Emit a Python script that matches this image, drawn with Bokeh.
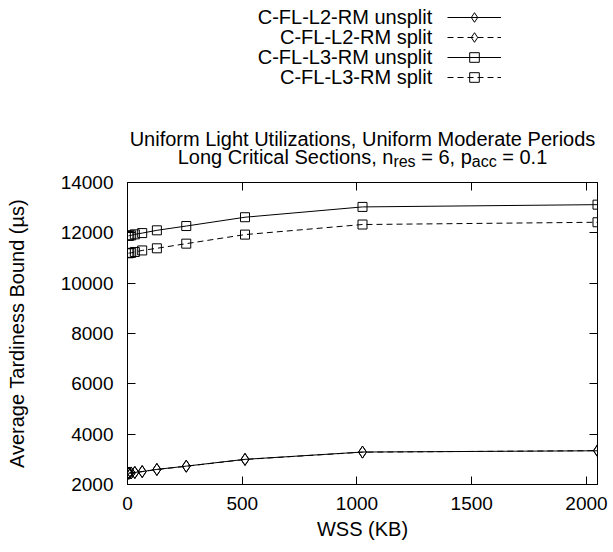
from bokeh.plotting import figure
from bokeh.layouts import column
from bokeh.models import (Range1d, LinearAxis, FixedTicker, Label, Legend, LegendItem,
                          CustomJSTickFormatter)
from bokeh.embed import file_html
from bokeh.resources import INLINE

# ---------------- data ----------------
wss_kb = [4, 8, 16, 32, 64, 128, 256, 512, 1024, 2048]
l2_unsplit = [2450, 2455, 2460, 2480, 2515, 2600, 2730, 3000, 3290, 3340]
l2_split = [2445, 2450, 2458, 2475, 2510, 2595, 2725, 2995, 3285, 3345]
l3_unsplit = [11880, 11890, 11900, 11940, 11990, 12100, 12270, 12620, 13030, 13120]
l3_split = [11190, 11195, 11205, 11240, 11300, 11385, 11570, 11930, 12330, 12420]

series_names = ["C-FL-L2-RM unsplit", "C-FL-L2-RM split",
                "C-FL-L3-RM unsplit", "C-FL-L3-RM split"]
x_ticks = [0, 500, 1000, 1500, 2000]
y_ticks = [2000, 4000, 6000, 8000, 10000, 12000, 14000]
title_line1 = "Uniform Light Utilizations, Uniform Moderate Periods"
title_line2_parts = [("Long Critical Sections, n", False), ("res", True),
                     (" = 6, p", False), ("acc", True), (" = 0.1", False)]
x_label = "WSS (KB)"
y_label = "Average Tardiness Bound (\u00b5s)"

# ---------------- layout constants ----------------
FONT = "Liberation Sans"
FS = 20
LEG_FS = 20
W, TOTAL_H = 612, 550
T = 172                      # height of the header (legend + title) strip
FRAME_L, FRAME_R, FRAME_T, FRAME_B = 127, 597, 182, 484
ML, MR = FRAME_L, W - FRAME_R
MT, MB = FRAME_T - T, (TOTAL_H - T) - (FRAME_B - T)

specs = [(l2_unsplit, "diamond", 12, "solid"),
         (l2_split, "diamond", 12, "6 4"),
         (l3_unsplit, "square", 9, "solid"),
         (l3_split, "square", 9, "6 4")]

# ---------------- header figure: legend + title ----------------
top = figure(width=W, height=T, output_backend="svg", toolbar_location=None,
             x_range=Range1d(0, W), y_range=Range1d(T, 0),
             x_axis_location=None, y_axis_location=None, min_border=0)
top.frame_align = False
top.grid.visible = False
top.outline_line_color = None
top.background_fill_color = "white"
top.border_fill_color = "white"

ROW0, PITCH = 16.7, 20
GH = 24
for i, (ys, mk, sz, dash) in enumerate(specs):
    ln = top.line(wss_kb, ys, line_color="black", line_width=1, line_dash=dash)
    sc = top.scatter(wss_kb, ys, marker=mk, size=sz, fill_color=None,
                     line_color="black", line_width=1)
    row_y = ROW0 + PITCH * i
    leg = Legend(items=[LegendItem(label=" ", renderers=[ln, sc])],
                 location=(447, T - (row_y + GH / 2.0)),
                 glyph_width=54, glyph_height=GH, label_height=GH,
                 label_width=1, spacing=0, padding=0, margin=0,
                 label_standoff=0, label_text_font_size="1px",
                 border_line_color=None, background_fill_color=None,
                 background_fill_alpha=0)
    top.add_layout(leg, "center")
    top.add_layout(Label(x=431.7, y=row_y, text=series_names[i],
                         text_align="right", text_baseline="middle",
                         text_font=FONT, text_font_size=f"{LEG_FS}px",
                         text_color="black"))

CX = (FRAME_L + FRAME_R) / 2.0
top.add_layout(Label(x=CX, y=138, text=title_line1, text_align="center",
                     text_baseline="alphabetic", text_font=FONT,
                     text_font_size=f"{FS}px", text_color="black"))

AW = {" ": 278, ",": 278, "=": 584, ".": 278, "0": 556, "1": 556, "6": 556,
      "L": 556, "C": 722, "S": 667, "o": 556, "n": 556, "g": 556, "r": 333,
      "i": 222, "t": 278, "c": 500, "a": 556, "l": 222, "e": 556, "s": 500,
      "p": 556}
SUB_FS = 16
def text_w(s, fs):
    return sum(AW.get(ch, 556) for ch in s) * fs / 1000.0

total = sum(text_w(t, SUB_FS if sub else FS) for t, sub in title_line2_parts)
x = CX - total / 2.0
for t, sub in title_line2_parts:
    fs = SUB_FS if sub else FS
    stripped = t.lstrip(" ")
    lead = text_w(t[:len(t) - len(stripped)], fs)   # svg collapses leading spaces
    top.add_layout(Label(x=x + lead, y=156 + (5 if sub else 0), text=stripped.rstrip(" "),
                         text_align="left", text_baseline="alphabetic", text_font=FONT,
                         text_font_size=f"{fs}px", text_color="black"))
    x += text_w(t, fs)

# ---------------- main plot ----------------
p = figure(width=W, height=TOTAL_H - T, output_backend="svg", toolbar_location=None,
           x_range=Range1d(0, 2048), y_range=Range1d(2000, 14000),
           min_border_left=ML, min_border_right=MR,
           min_border_top=MT, min_border_bottom=MB)
p.frame_align = False
p.grid.visible = False
p.outline_line_color = "black"
p.outline_line_width = 1
p.background_fill_color = "white"
p.border_fill_color = "white"

blank = CustomJSTickFormatter(code="return ''")

def style_axis(ax, ticks, show_labels):
    ax.ticker = FixedTicker(ticks=ticks)
    ax.major_tick_in = 8
    ax.major_tick_out = 0
    ax.minor_tick_line_color = None
    ax.axis_line_color = "black"
    ax.major_tick_line_color = "black"
    ax.major_label_text_font = FONT
    ax.major_label_text_color = "black"
    if show_labels:
        ax.major_label_text_font_size = "19px"
    else:
        ax.formatter = blank
        ax.major_label_text_font_size = "1px"
        ax.major_label_standoff = 0

style_axis(p.xaxis[0], x_ticks, True)
style_axis(p.yaxis[0], y_ticks, True)
p.xaxis[0].major_label_standoff = 12
p.yaxis[0].major_label_standoff = 14
p.xaxis[0].axis_label = x_label
p.yaxis[0].axis_label = y_label
for ax in (p.xaxis[0], p.yaxis[0]):
    ax.axis_label_text_font = FONT
    ax.axis_label_text_font_size = f"{FS}px"
    ax.axis_label_text_font_style = "normal"
    ax.axis_label_text_color = "black"
p.xaxis[0].axis_label_standoff = 5
p.yaxis[0].axis_label_standoff = 30

top_ax = LinearAxis()
right_ax = LinearAxis()
style_axis(top_ax, x_ticks, False)
style_axis(right_ax, y_ticks, False)
p.add_layout(top_ax, "above")
p.add_layout(right_ax, "right")

for ys, mk, sz, dash in specs:
    p.line(wss_kb, ys, line_color="black", line_width=1, line_dash=dash)
    p.scatter(wss_kb, ys, marker=mk, size=sz, fill_color=None,
              line_color="black", line_width=1)

layout = column(top, p, spacing=0)
open("out.html", "w").write(file_html(layout, INLINE))
